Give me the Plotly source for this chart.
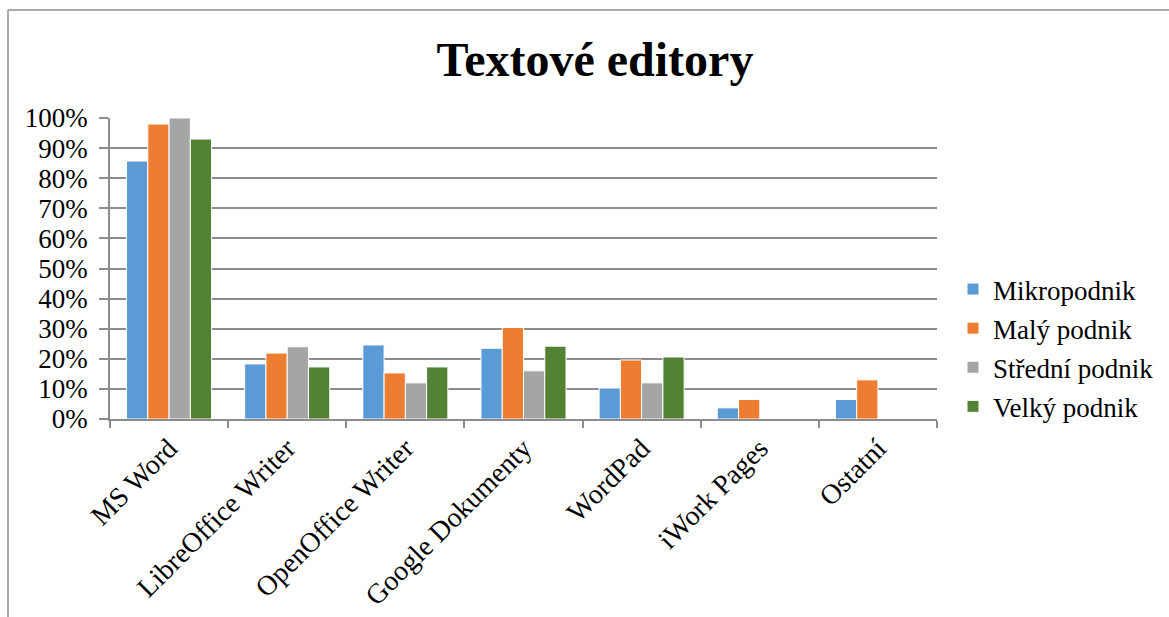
import plotly.graph_objects as go

categories = ["MS Word", "LibreOffice Writer", "OpenOffice Writer", "Google Dokumenty",
              "WordPad", "iWork Pages", "Ostatní"]
mikro = [0.857, 0.183, 0.246, 0.235, 0.103, 0.037, 0.065]
maly = [0.98, 0.219, 0.153, 0.304, 0.196, 0.065, 0.13]
stredni = [1.0, 0.24, 0.12, 0.16, 0.12, 0.0, 0.0]
velky = [0.93, 0.173, 0.173, 0.242, 0.206, 0.0, 0.0]
series_names = ["Mikropodnik", "Malý podnik", "Střední podnik", "Velký podnik"]
colors = ["#5B9BD5", "#ED7D31", "#A5A5A5", "#548235"]

FONT = "Liberation Serif, Times New Roman, serif"
W, H = 1169, 617
L, R, T, B = 110, 232, 118, 198
pw, ph = W - L - R, H - T - B

def px_x(x):
    return (x - L) / pw

def px_y(y):
    return (H - B - y) / ph

fig = go.Figure()
for i, (name, vals) in enumerate(zip(series_names, [mikro, maly, stredni, velky])):
    fig.add_trace(go.Bar(
        x=categories, y=vals, name=name,
        marker=dict(color=colors[i], line=dict(color="white", width=1)),
        legendgroup=name,
    ))

fig.update_layout(
    width=W, height=H,
    margin=dict(l=L, r=R, t=T, b=B, autoexpand=False),
    paper_bgcolor="white", plot_bgcolor="white",
    barmode="group", bargap=0.28, bargroupgap=0,
    font=dict(family=FONT, color="black", size=26),
    title=dict(text="<b>Textové editory</b>", font=dict(family=FONT, size=48, color="black"),
               x=595 / W, xref="container", xanchor="center",
               y=1 - 59 / H, yref="container", yanchor="middle"),
    legend=dict(x=px_x(953), y=px_y(265), xanchor="left", yanchor="top",
                font=dict(family=FONT, size=27), traceorder="grouped",
                tracegroupgap=1, bgcolor="rgba(0,0,0,0)"),
    showlegend=True,
)
fig.update_xaxes(
    type="category", tickangle=-45, tickson="boundaries", ticks="outside",
    ticklen=7, tickcolor="#8C8C8C", tickwidth=1.5,
    showline=True, linecolor="#8C8C8C", linewidth=1.5,
    showgrid=False, tickfont=dict(family=FONT, size=28), automargin=False,
)
fig.update_yaxes(
    range=[0, 1], dtick=0.1, tickformat=".0%",
    ticks="outside", ticklen=9, tickcolor="#8C8C8C", tickwidth=1.5,
    showline=True, linecolor="#8C8C8C", linewidth=1.5,
    showgrid=True, gridcolor="#8C8C8C", gridwidth=1.5,
    zeroline=False, tickfont=dict(family=FONT, size=27),
    ticklabelstandoff=6, automargin=False,
)
# chart-area border (top and left edges visible)
fig.add_shape(type="line", xref="paper", yref="paper",
              x0=px_x(8), x1=px_x(1180), y0=px_y(10), y1=px_y(10),
              line=dict(color="#ABABAB", width=2))
fig.add_shape(type="line", xref="paper", yref="paper",
              x0=px_x(8), x1=px_x(8), y0=px_y(10), y1=px_y(630),
              line=dict(color="#ABABAB", width=2))

fig.write_html("out.html")
